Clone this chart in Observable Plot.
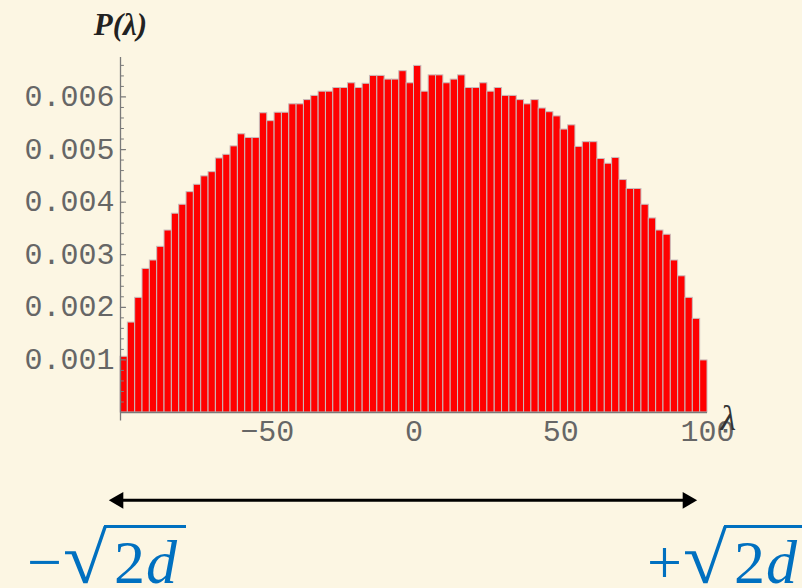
<!DOCTYPE html>
<html><head><meta charset="utf-8">
<script src="https://cdn.jsdelivr.net/npm/d3@7"></script>
<script src="https://cdn.jsdelivr.net/npm/@observablehq/plot@0.6"></script>
<style>
html,body{margin:0;padding:0;background:#fcf6e3;}
#wrap{position:relative;width:802px;height:588px;overflow:hidden;background:#fcf6e3;}
#chart svg{display:block;}
.bound{position:absolute;top:537px;font-family:"Liberation Serif",serif;font-size:62px;line-height:50px;color:#0070c0;white-space:nowrap;}
.bound .rad{display:inline-block;margin-left:6px;transform:scale(1.3,1.16);transform-origin:50% 46px;}
.bound .ov{border-top:3px solid #0070c0;margin-left:2px;padding-left:10px;padding-right:8px;letter-spacing:1px;}
.bound i{font-style:italic;}
</style></head>
<body>
<div id="wrap">
  <div id="chart"></div>
  <div class="bound" style="left:27px">−<span class="rad">√</span><span class="ov">2<i>d</i></span></div>
  <div class="bound" style="left:647px">+<span class="rad">√</span><span class="ov">2<i>d</i></span></div>
</div>
<script>
// Histogram of eigenvalues: density per bin (bins of width 2.5 from -100 to 100)
const density = [
  0.00106, 0.00171, 0.00218, 0.00273, 0.00289, 0.00315, 0.00346, 0.00378, 0.00395, 0.00419,
  0.00433, 0.00449, 0.00457, 0.00483, 0.00490, 0.00506, 0.00529, 0.00522, 0.00522, 0.00569,
  0.00554, 0.00570, 0.00570, 0.00586, 0.00586, 0.00594, 0.00602, 0.00610, 0.00610, 0.00617,
  0.00617, 0.00626, 0.00617, 0.00625, 0.00640, 0.00640, 0.00633, 0.00633, 0.00649, 0.00626,
  0.00659, 0.00610, 0.00641, 0.00641, 0.00626, 0.00633, 0.00641, 0.00617, 0.00617, 0.00626,
  0.00610, 0.00617, 0.00602, 0.00602, 0.00594, 0.00586, 0.00594, 0.00578, 0.00571, 0.00563,
  0.00538, 0.00546, 0.00505, 0.00514, 0.00514, 0.00482, 0.00473, 0.00484, 0.00442, 0.00425,
  0.00425, 0.00395, 0.00369, 0.00346, 0.00338, 0.00289, 0.00259, 0.00218, 0.00178, 0.00099
];
const binStart = -100;
const binWidth = 2.5;
const xDomain = [-100, 100];
const yDomain = [0, 0.00675];
const xTicks = [-50, 0, 50, 100];
const xTickLabels = ["−50", "0", "50", "100"];
const yTicks = [0.001, 0.002, 0.003, 0.004, 0.005, 0.006];
const yTickLabels = ["0.001", "0.002", "0.003", "0.004", "0.005", "0.006"];
const yMinorTicks = d3.range(1, 34).map(i => +(i * 0.0002).toFixed(4)).filter(v => !yTicks.some(t => Math.abs(t - v) < 1e-9));
const arrowSpan = [-104.1, 96.6];
const arrowY = -0.00167;

const bins = density.map((p, i) => ({x1: binStart + i * binWidth, x2: binStart + (i + 1) * binWidth, p}));
const tickShape = {draw(ctx, l) { ctx.moveTo(0, 0); ctx.lineTo(0, -l); }};
const axisColor = "#7a7a7a";
const labelFont = {fontFamily: "Liberation Mono, DejaVu Sans Mono, monospace", fontSize: 30, fill: "#666"};

const chart = Plot.plot({
  width: 802, height: 588,
  marginLeft: 120, marginRight: 95, marginTop: 57, marginBottom: 176,
  x: {domain: xDomain, axis: null},
  y: {domain: yDomain, axis: null},
  style: {background: "transparent", overflow: "visible"},
  marks: [
    Plot.rectY(bins, {x1: "x1", x2: "x2", y: "p", fill: "#ff0000", stroke: "#c8bcbc", strokeWidth: 1}),
    Plot.ruleY([0], {x1: xDomain[0], x2: xDomain[1], stroke: axisColor, strokeWidth: 1.3}),
    Plot.ruleX([xDomain[0]], {y1: -0.00016, y2: yDomain[1], stroke: axisColor, strokeWidth: 1.3}),
    Plot.vector(yTicks, {x: xDomain[0], y: d => d, length: 5, rotate: 90, anchor: "start", shape: tickShape, stroke: axisColor, strokeWidth: 1.2}),
    Plot.vector(yMinorTicks, {x: xDomain[0], y: d => d, length: 3, rotate: 90, anchor: "start", shape: tickShape, stroke: axisColor, strokeWidth: 1}),
    Plot.text(yTicks, {x: xDomain[0], y: d => d, text: (d, i) => yTickLabels[i], textAnchor: "end", lineAnchor: "bottom", dx: -6, dy: 9, ...labelFont}),
    Plot.text(xTicks, {x: d => d, y: 0, text: (d, i) => xTickLabels[i], textAnchor: "middle", lineAnchor: "bottom", dy: 28, ...labelFont}),
    Plot.text(["λ"], {x: xDomain[1], y: 0, text: d => d, textAnchor: "start", lineAnchor: "bottom", dx: 13, dy: 17, fontFamily: "Liberation Serif, serif", fontStyle: "italic", fontSize: 36, fill: "#333"}),
    Plot.text(["P(λ)"], {x: xDomain[0], y: yDomain[1], text: d => d, textAnchor: "middle", lineAnchor: "bottom", dy: -23, fontFamily: "Liberation Serif, serif", fontStyle: "italic", fontWeight: "bold", fontSize: 31, fill: "#222"}),
    Plot.ruleY([arrowY], {x1: arrowSpan[0], x2: arrowSpan[1], stroke: "black", strokeWidth: 3, insetLeft: 8, insetRight: 8}),
    Plot.dot([arrowSpan[0]], {x: d => d, y: arrowY, symbol: "triangle", r: 6.2, rotate: -90, dx: 10, fill: "black", stroke: "none"}),
    Plot.dot([arrowSpan[1]], {x: d => d, y: arrowY, symbol: "triangle", r: 6.2, rotate: 90, dx: -10, fill: "black", stroke: "none"})
  ]
});
document.getElementById("chart").appendChild(chart);
</script>
</body></html>
